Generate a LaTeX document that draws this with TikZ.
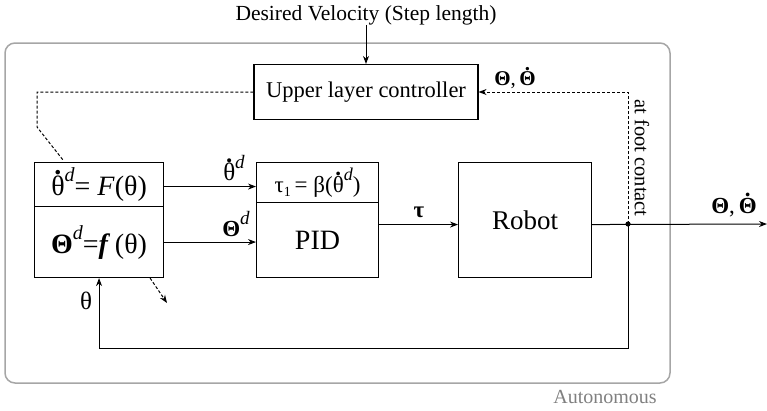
\documentclass[tikz,border=0pt]{standalone}
\usepackage{fontspec}
\setmainfont{Liberation Serif}
\usetikzlibrary{arrows.meta,calc}
\newcommand{\dacc}[1]{\leavevmode\setbox0\hbox{#1}\rlap{\hbox to\wd0{\hss\raisebox{\dimexpr\ht0+0.04em\relax}{\textbf{.}}\hss}}\box0}
\newcommand{\supd}[1]{\raisebox{0.5em}{\fontsize{#1}{#1}\selectfont\itshape d}}
\begin{document}
\begin{tikzpicture}[x=1pt,y=-1pt,
  box/.style={draw, line width=1.1pt, inner sep=0pt, anchor=north west},
  arr/.style={line width=1pt, -{Stealth[length=8pt,width=6pt]}},
  dsh/.style={line width=1pt, dash pattern=on 3pt off 2pt},
  dsharr/.style={dsh, -{Stealth[length=8pt,width=6pt]}},
  lbl/.style={inner sep=0pt, font=\fontsize{22}{24}\selectfont}]
\useasboundingbox (0,0) rectangle (767,410);
% outer frame
\draw[line width=1.5pt, color=black!35, rounded corners=10pt] (5,43) rectangle (670,383);
\node[inner sep=0pt, text=black!50, font=\fontsize{20}{21}\selectfont] (auto) at (605,397) {Autonomous};
% title
\node[inner sep=0pt, font=\fontsize{21.5}{23}\selectfont] (desired) at (366,15) {Desired Velocity (Step length)};
% upper controller
\node[box, anchor=center, minimum width=224pt, minimum height=55pt, font=\fontsize{22.5}{24}\selectfont] (upper) at (366,92) {Upper layer controller};
% left blocks
\node[box, minimum width=129pt, minimum height=44pt, font=\fontsize{28}{30}\selectfont] (ltop) at (34,162) {\dacc{θ}\supd{20}= \textit{F}(θ)};
\node[box, minimum width=129pt, minimum height=71pt, font=\fontsize{28}{30}\selectfont] (lbot) at (34,206) {\textbf{Θ}\supd{20}=\textbf{\textit{f}}\,(θ)};
% PID blocks
\node[box, minimum width=122pt, minimum height=40pt, font=\fontsize{23}{25}\selectfont] (ptop) at (256,162) {τ\raisebox{-0.2em}{\fontsize{14}{14}\selectfont 1}\,= β(\dacc{θ}\supd{18})};
\node[box, minimum width=122pt, minimum height=75pt, font=\fontsize{28}{30}\selectfont] (pbot) at (256,202) {PID};
% robot
\node[box, minimum width=133pt, minimum height=115pt, font=\fontsize{27}{29}\selectfont] (robot) at (458,162) {Robot};
% coordinates
\coordinate (a1) at ([yshift=-2pt]ltop.east);
\coordinate (tr) at ([yshift=-4.5pt]robot.west);
\coordinate (ro) at ([yshift=-4.5pt]robot.east);
\coordinate (j) at (628,224);
\coordinate (outend) at (767,224);
\coordinate (fb) at (628,348);
\coordinate (k1) at (37,93);
\coordinate (k2) at (37,127);
\coordinate (k3) at (63,160);
\coordinate (ds) at ([xshift=-14pt]lbot.south east);
\coordinate (de) at (167,303);
% connectors
\draw[arr] (desired.south) -- (upper.north);
\draw[arr] (a1) -- (a1 -| ptop.west);
\draw[arr] (lbot.east) -- (lbot.east -| pbot.west);
\draw[arr] (tr -| pbot.east) -- (tr);
\draw[arr] (ro) -- (outend);
\draw[dsharr] (j) -- (j |- upper.east) -- (upper.east);
\draw[arr] (j) -- (fb) -- (fb -| lbot.south) -- (lbot.south);
\draw[dsh] (upper.west) -- (upper.west -| k1) -- (k2) -- (k3);
\draw[dsharr] (ds) -- (de);
\fill (j) circle (2.6pt);
% labels
\node[lbl, font=\fontsize{25}{27}\selectfont] (l1) at (234,168) {\dacc{θ}\supd{19}};
\node[lbl, font=\fontsize{23}{25}\selectfont] (l2) at (236,224) {\textbf{Θ}\supd{19}};
\node[lbl, font=\fontsize{23}{25}\selectfont] (l3) at (419,212) {\textbf{τ}};
\node[lbl, font=\fontsize{21}{23}\selectfont] (l4) at (515,78) {\textbf{Θ},\,\dacc{\textbf{Θ}}};
\node[lbl, font=\fontsize{23}{25}\selectfont] (l5) at (734,205) {\textbf{Θ},\,\dacc{\textbf{Θ}}};
\node[lbl, font=\fontsize{25}{27}\selectfont] (l6) at (86,301) {θ};
\node[lbl, rotate=-90, font=\fontsize{20.5}{22}\selectfont] (l7) at (642,158) {at foot contact};
\end{tikzpicture}
\end{document}
